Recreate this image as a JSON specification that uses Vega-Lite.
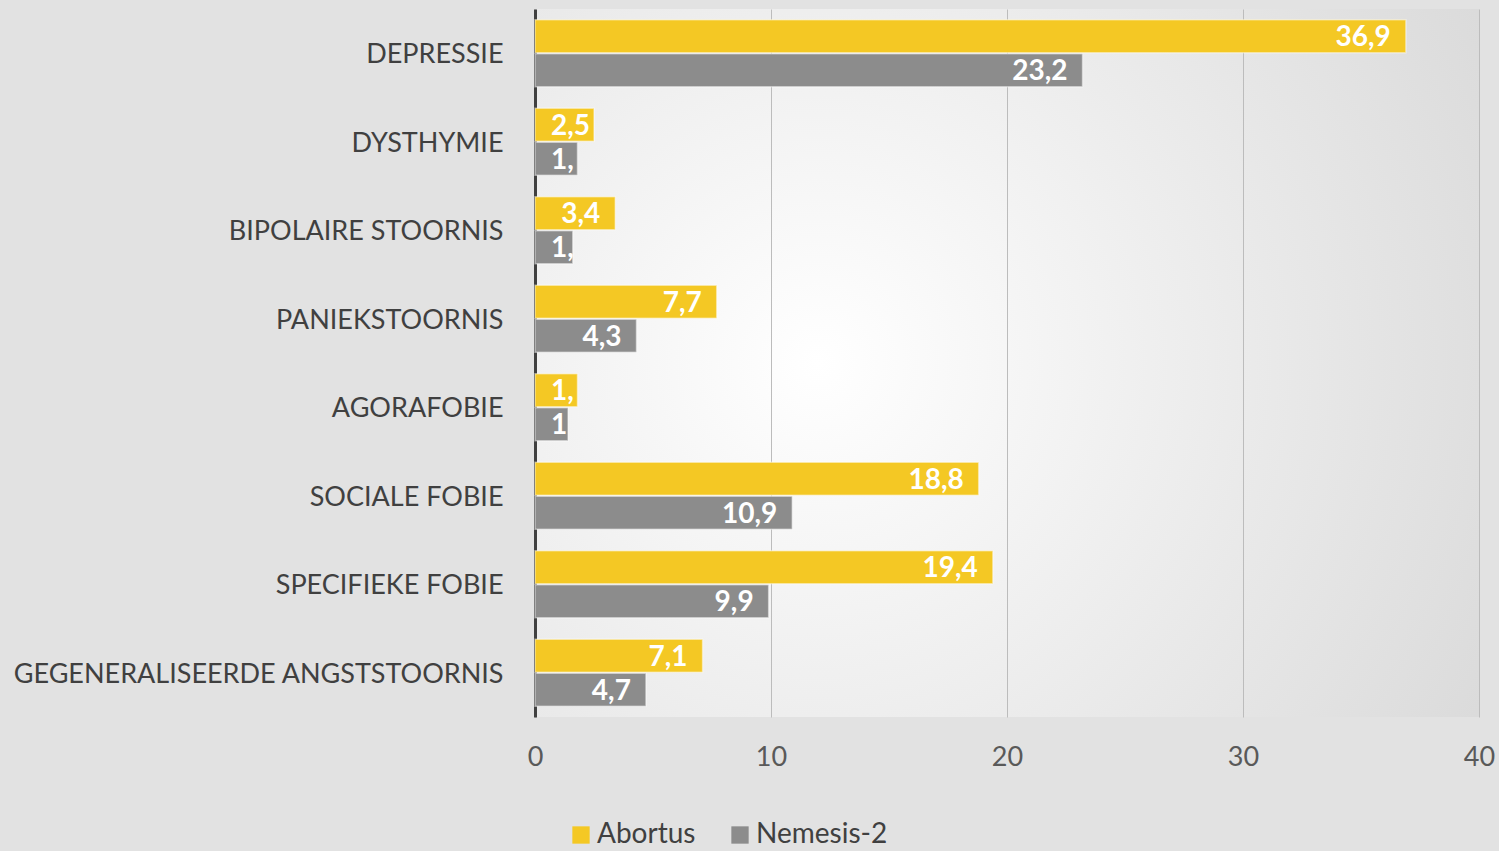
{
  "$schema": "https://vega.github.io/schema/vega-lite/v6.json",
  "autosize": {"type": "none"},
  "padding": {"left": 535, "top": 9, "right": 20, "bottom": 134},
  "width": 944,
  "height": 708,
  "background": "#e2e2e2",
  "config": {
    "font": "Lato",
    "locale": {"number": {"decimal": ",", "thousands": ".", "grouping": [3], "currency": ["€", ""]}},
    "view": {"stroke": null, "fill": {"gradient": "radial", "x1": 0.3, "y1": 0.5, "r1": 0, "x2": 0.3, "y2": 0.5, "r2": 0.9, "stops": [{"offset": 0, "color": "#ffffff"}, {"offset": 1, "color": "#d6d6d6"}]}}
  },
  "data": {
    "values": [
      {"stoornis": "DEPRESSIE", "groep": "Abortus", "waarde": 36.9},
      {"stoornis": "DEPRESSIE", "groep": "Nemesis-2", "waarde": 23.2},
      {"stoornis": "DYSTHYMIE", "groep": "Abortus", "waarde": 2.5},
      {"stoornis": "DYSTHYMIE", "groep": "Nemesis-2", "waarde": 1.8},
      {"stoornis": "BIPOLAIRE STOORNIS", "groep": "Abortus", "waarde": 3.4},
      {"stoornis": "BIPOLAIRE STOORNIS", "groep": "Nemesis-2", "waarde": 1.6},
      {"stoornis": "PANIEKSTOORNIS", "groep": "Abortus", "waarde": 7.7},
      {"stoornis": "PANIEKSTOORNIS", "groep": "Nemesis-2", "waarde": 4.3},
      {"stoornis": "AGORAFOBIE", "groep": "Abortus", "waarde": 1.8},
      {"stoornis": "AGORAFOBIE", "groep": "Nemesis-2", "waarde": 1.4},
      {"stoornis": "SOCIALE FOBIE", "groep": "Abortus", "waarde": 18.8},
      {"stoornis": "SOCIALE FOBIE", "groep": "Nemesis-2", "waarde": 10.9},
      {"stoornis": "SPECIFIEKE FOBIE", "groep": "Abortus", "waarde": 19.4},
      {"stoornis": "SPECIFIEKE FOBIE", "groep": "Nemesis-2", "waarde": 9.9},
      {"stoornis": "GEGENERALISEERDE ANGSTSTOORNIS", "groep": "Abortus", "waarde": 7.1},
      {"stoornis": "GEGENERALISEERDE ANGSTSTOORNIS", "groep": "Nemesis-2", "waarde": 4.7}
    ]
  },
  "encoding": {
    "y": {
      "field": "stoornis", "type": "nominal", "sort": null,
      "scale": {"paddingInner": 0.245, "paddingOuter": 0.1225},
      "axis": {"title": null, "ticks": false, "domain": true, "domainColor": "#404040", "domainWidth": 3, "labelFontSize": 27, "labelColor": "#404040", "labelPadding": 32, "labelLimit": 600, "labelOffset": 2}
    },
    "yOffset": {"field": "groep", "type": "nominal", "scale": {"paddingInner": 0.03}},
    "x": {
      "field": "waarde", "type": "quantitative",
      "scale": {"domain": [0, 40], "nice": false},
      "axis": {"title": null, "values": [0, 10, 20, 30, 40], "ticks": false, "domain": false, "grid": true, "gridColor": "#bcbcbc", "gridWidth": 1, "labelFontSize": 27, "labelColor": "#595959", "labelPadding": 27, "labelFlush": false, "format": "d"}
    }
  },
  "layer": [
    {
      "mark": {"type": "bar", "stroke": "#ffffff", "strokeOpacity": 0.45, "strokeWidth": 1.5},
      "encoding": {
        "color": {
          "field": "groep", "type": "nominal",
          "scale": {"domain": ["Abortus", "Nemesis-2"], "range": ["#f4c824", "#8c8c8c"]},
          "legend": {"title": null, "orient": "none", "direction": "horizontal", "legendX": 32, "legendY": 812, "symbolType": "square", "symbolSize": 300, "symbolStrokeWidth": 0, "labelFontSize": 28, "labelColor": "#404040", "labelOffset": 2, "columnPadding": 30, "labelLimit": 300}
        }
      }
    },
    {
      "mark": {
        "type": "text", "baseline": "middle", "dy": 2, "fontSize": 28, "fontWeight": "bold", "color": "#ffffff", "ellipsis": "\u200b",
        "align": {"expr": "datum.waarde < 3.05 ? 'left' : 'right'"},
        "dx": {"expr": "datum.waarde < 3.05 ? 16 - scale('x', datum.waarde) : -15"},
        "limit": {"expr": "datum.waarde < 3.05 ? scale('x', datum.waarde) - 13 : 1000"}
      },
      "encoding": {
        "text": {"field": "waarde", "type": "quantitative", "format": ".1f"}
      }
    }
  ]
}
